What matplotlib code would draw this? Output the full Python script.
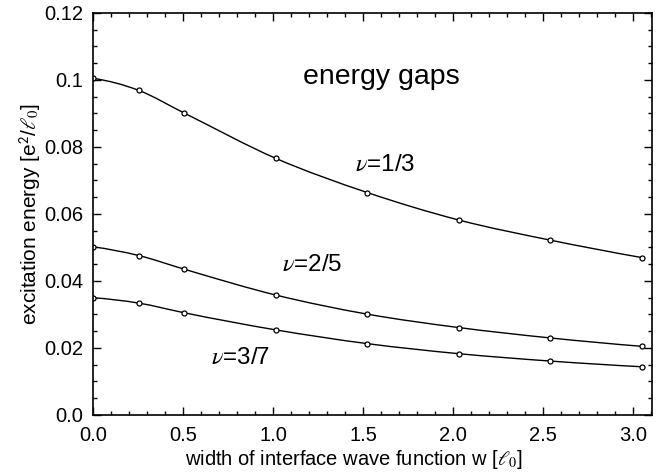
import numpy as np
import matplotlib
matplotlib.use('Agg')
import matplotlib.pyplot as plt
from matplotlib.path import Path
from matplotlib.patches import PathPatch
from matplotlib.ticker import MultipleLocator, FixedLocator, FixedFormatter

plt.rcParams['font.family'] = ['Liberation Sans', 'DejaVu Sans']
plt.rcParams['mathtext.fontset'] = 'stix'

# widths w in units of the magnetic length
w = [0.0, 0.254, 0.508, 1.016, 1.524, 2.032, 2.54, 3.048]
gap_13 = [0.1005, 0.0969, 0.0901, 0.0766, 0.0664, 0.0582, 0.0522, 0.0470]
gap_25 = [0.0502, 0.0476, 0.0435, 0.0358, 0.0301, 0.0261, 0.0230, 0.0205]
gap_37 = [0.0350, 0.0334, 0.0305, 0.0254, 0.0213, 0.0183, 0.0161, 0.0144]

series = [gap_13, gap_25, gap_37]
labels = [r'$\nu$=1/3', r'$\nu$=2/5', r'$\nu$=3/7']
label_pos = [(1.62, 0.0746), (1.22, 0.0448), (0.82, 0.0170)]

ytick_vals = [0.0, 0.02, 0.04, 0.06, 0.08, 0.1, 0.12]
ytick_text = ['0.0', '0.02', '0.04', '0.06', '0.08', '0.1', '0.12']
xtick_vals = [0.0, 0.5, 1.0, 1.5, 2.0, 2.5, 3.0]
xtick_text = ['0.0', '0.5', '1.0', '1.5', '2.0', '2.5', '3.0']


def smooth_path(x, y):
    # piecewise cubic Hermite through the points, drawn as Bezier segments
    x = np.asarray(x)
    y = np.asarray(y)
    h = np.diff(x)
    d = np.diff(y) / h
    m = np.empty_like(y)
    m[1:-1] = (h[:-1] * d[1:] + h[1:] * d[:-1]) / (h[:-1] + h[1:])
    m[0] = 2 * d[0] - m[1]
    m[-1] = 2 * d[-1] - m[-2]
    verts = [(x[0], y[0])]
    codes = [Path.MOVETO]
    for i in range(len(x) - 1):
        verts += [(x[i] + h[i] / 3, y[i] + m[i] * h[i] / 3),
                  (x[i + 1] - h[i] / 3, y[i + 1] - m[i + 1] * h[i] / 3),
                  (x[i + 1], y[i + 1])]
        codes += [Path.CURVE4] * 3
    return Path(verts, codes)


fig = plt.figure(figsize=(6.7, 4.74), dpi=100)
ax = fig.add_axes([0.1388, 0.1245, 0.8342, 0.8481])

for ys in series:
    ax.add_patch(PathPatch(smooth_path(w, ys), facecolor='none',
                           edgecolor='black', lw=1.0))
    ax.plot(w, ys, ls='none', marker='o', ms=3.6, mfc='white',
            mec='black', mew=0.9)

for lab, (lx, ly) in zip(labels, label_pos):
    ax.text(lx, ly, lab, fontsize=17.5, ha='center', va='center')

ax.text(1.6, 0.1010, 'energy gaps', fontsize=20.5, ha='center', va='center')

ax.set_xlim(0, 3.105)
ax.set_ylim(0, 0.12)
ax.xaxis.set_major_locator(FixedLocator(xtick_vals))
ax.xaxis.set_major_formatter(FixedFormatter(xtick_text))
ax.xaxis.set_minor_locator(MultipleLocator(0.1))
ax.yaxis.set_major_locator(FixedLocator(ytick_vals))
ax.yaxis.set_major_formatter(FixedFormatter(ytick_text))
ax.yaxis.set_minor_locator(MultipleLocator(0.005))
ax.tick_params(which='both', direction='in', top=True, right=True,
               labelsize=14.5, width=1.0)
ax.tick_params(which='major', length=5.5)
ax.tick_params(which='minor', length=3)
ax.tick_params(axis='x', which='major', pad=8)
ax.tick_params(axis='y', which='major', pad=7)
for s in ax.spines.values():
    s.set_linewidth(1.2)

ax.set_xlabel(r'width of interface wave function w [$\ell_0$]', fontsize=14.5)
ax.xaxis.set_label_coords(0.467, -0.082, transform=ax.transAxes)
ax.xaxis.label.set_va('top')
ax.set_ylabel(r'excitation energy [e$^\mathsf{2}$/$\ell_0$]', fontsize=15,
              labelpad=1)

fig.savefig('out.png', dpi=100)
